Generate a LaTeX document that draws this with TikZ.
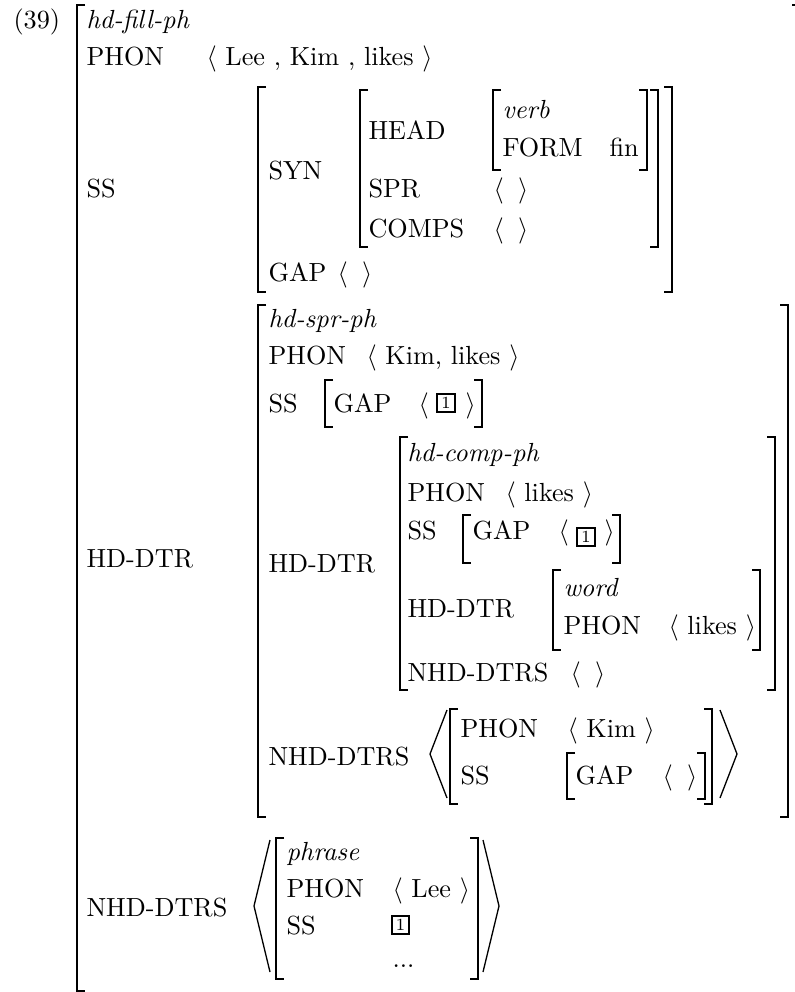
\documentclass[tikz,border=0pt]{standalone}
\begin{document}
\begin{tikzpicture}[x=0.3817pt,y=-0.3817pt,
  lab/.style={anchor=base west,inner sep=0pt,font=\fontsize{10}{12}\selectfont},
  brk/.style={line width=0.75pt,line cap=butt,line join=miter},
  ang/.style={line width=0.5pt,line join=miter},
  tagbox/.style={draw,line width=0.8pt,inner sep=0pt,minimum width=6.8pt,minimum height=7.2pt,font=\fontsize{6.5}{7}\selectfont}]
\newcommand{\avmLB}[3]{\draw[brk] (#1+8,#2) -- (#1,#2) -- (#1,#3) -- (#1+8,#3);}
\newcommand{\avmRB}[3]{\draw[brk] (#1-8,#2) -- (#1,#2) -- (#1,#3) -- (#1-8,#3);}
\newcommand{\avmLA}[4]{\draw[ang] (#2,#3) -- (#1,{(#3+#4)/2}) -- (#2,#4);}
\newcommand{\avmRA}[4]{\draw[ang] (#1,#3) -- (#2,{(#3+#4)/2}) -- (#1,#4);}
\useasboundingbox (0,0) rectangle (794,992);
% outer matrix
\node[lab] (ex) at (13,28) {(39)};
\avmLB{77}{5}{991}
\draw[brk] (792,5) -- (801,5) -- (801,1000);
\node[lab] (t0) at (86,28) {\textit{hd-fill-ph}};
\node[lab] (phon0) at (86,65) {PHON};
\node[lab] (phon0v) at (206,65) {$\langle$ Lee , Kim , likes $\rangle$};
% SS
\node[lab] (ss0) at (86,197) {SS};
\avmLB{258}{87}{292}
\avmRB{672}{87}{292}
\node[lab] (syn) at (268,179) {SYN};
\avmLB{360}{90}{247}
\avmRB{658}{90}{247}
\node[lab] (head) at (368,139) {HEAD};
\avmLB{493}{90}{170}
\avmRB{647}{90}{170}
\node[lab] (verb) at (502,118) {\textit{verb}};
\node[lab] (form) at (502,156) {FORM};
\node[lab] (fin) at (609,156) {fin};
\node[lab] (spr) at (368,197) {SPR};
\node[lab] (sprv) at (493,197) {$\langle\;\;\rangle$};
\node[lab] (comps) at (368,237) {COMPS};
\node[lab] (compsv) at (493,237) {$\langle\;\;\rangle$};
\node[lab] (gap0) at (268,281) {GAP};
\node[lab] (gap0v) at (337,281) {$\langle\;\;\rangle$};
% HD-DTR
\node[lab] (hd1) at (86,567) {HD-DTR};
\avmLB{258}{305}{817}
\avmRB{788}{305}{817}
\node[lab] (t1) at (268,327) {\textit{hd-spr-ph}};
\node[lab] (phon1) at (268,364) {PHON};
\node[lab] (phon1v) at (366,364) {$\langle$ Kim, likes $\rangle$};
\node[lab] (ss1) at (268,412) {SS};
\avmLB{325}{380}{427}
\node[lab] (gap1) at (333,412) {GAP};
\node[lab] (gap1a) at (418,412) {$\langle$};
\node[tagbox] (tag1) at (446,403) {1};
\node[lab] (gap1b) at (465,412) {$\rangle$};
\avmRB{482}{380}{427}
% inner HD-DTR
\node[lab] (hd2) at (268,572) {HD-DTR};
\avmLB{400}{437}{690}
\avmRB{775}{437}{690}
\node[lab] (t2) at (407,461) {\textit{hd-comp-ph}};
\node[lab] (phon2) at (407,501) {PHON};
\node[lab] (phon2v) at (505,501) {$\langle$ likes $\rangle$};
\node[lab] (ss2) at (407,539) {SS};
\avmLB{463}{515}{563}
\node[lab] (gap2) at (472,539) {GAP};
\node[lab] (gap2a) at (558,539) {$\langle$};
\node[tagbox] (tag2) at (586,537) {1};
\node[lab] (gap2b) at (604,539) {$\rangle$};
\avmRB{620}{515}{563}
\node[lab] (hd3) at (407,617) {HD-DTR};
\avmLB{553}{570}{650}
\avmRB{760}{570}{650}
\node[lab] (t3) at (563,596) {\textit{word}};
\node[lab] (phon3) at (563,634) {PHON};
\node[lab] (phon3v) at (668,634) {$\langle$ likes $\rangle$};
\node[lab] (nhd2) at (407,681) {NHD-DTRS};
\node[lab] (nhd2v) at (570,681) {$\langle\;\;\rangle$};
% NHD-DTRS of hd-spr-ph
\node[lab] (nhd1) at (268,765) {NHD-DTRS};
\avmLA{430}{447}{710}{798}
\avmLB{450}{709}{804}
\node[lab] (phon4) at (460,737) {PHON};
\node[lab] (phon4v) at (567,737) {$\langle$ Kim $\rangle$};
\node[lab] (ss4) at (460,784) {SS};
\avmLB{567}{753}{799}
\node[lab] (gap4) at (575,784) {GAP};
\node[lab] (gap4v) at (662,784) {$\langle\;\;\rangle$};
\avmRB{705}{753}{799}
\avmRB{712}{709}{804}
\avmRA{720}{737}{710}{798}
% outer NHD-DTRS
\node[lab] (nhd0) at (86,916) {NHD-DTRS};
\avmLA{254}{270}{840}{972}
\avmLB{276}{838}{979}
\node[lab] (t5) at (286,860) {\textit{phrase}};
\node[lab] (phon5) at (286,897) {PHON};
\node[lab] (phon5v) at (392,897) {$\langle$ Lee $\rangle$};
\node[lab] (ss5) at (286,934) {SS};
\node[tagbox] (tag3) at (400.5,925) {1};
\node[lab] (dots) at (392,967) {...};
\avmRB{478}{838}{979}
\avmRA{483}{499}{840}{972}
\end{tikzpicture}
\end{document}
